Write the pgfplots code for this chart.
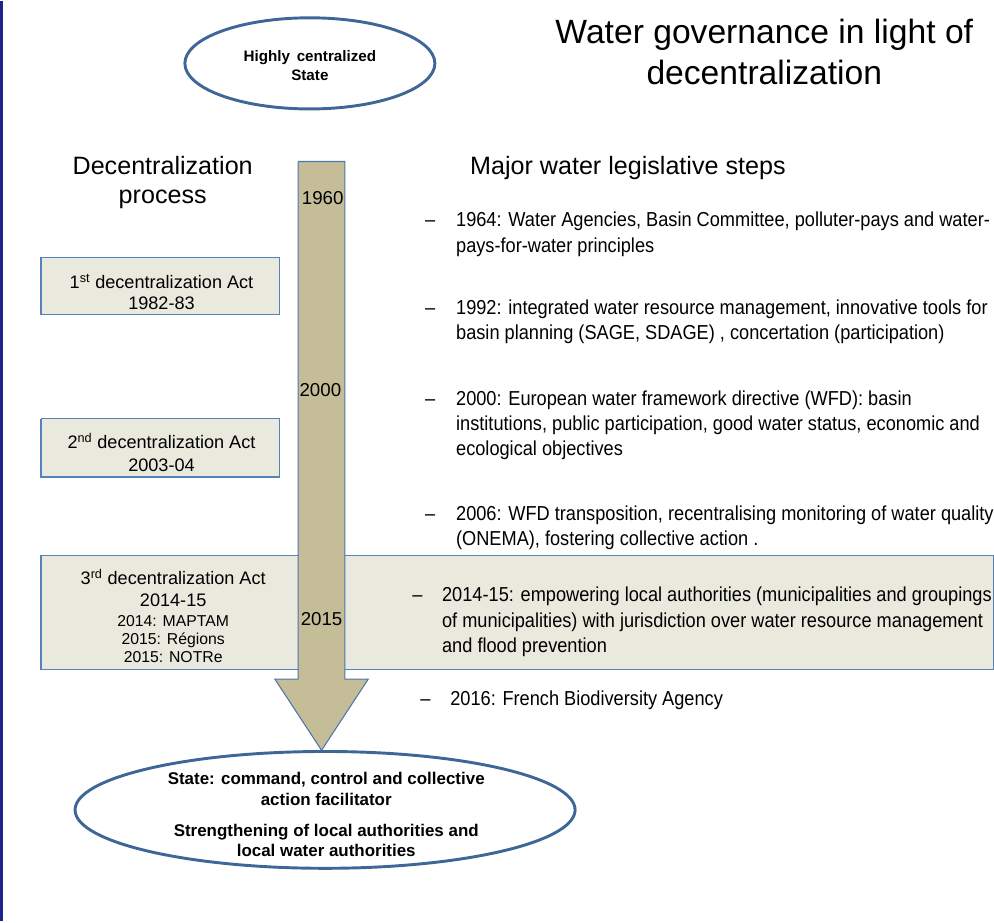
\documentclass[border=0pt]{standalone}
\usepackage{pgfplots}
\pgfplotsset{compat=1.18}
\usepackage{fontspec}
\setmainfont{Liberation Sans}
\newfontfamily\itemfont{Liberation Sans}[FakeStretch=0.9]
\definecolor{navy}{RGB}{32,34,140}
\definecolor{ellblue}{RGB}{62,102,150}
\definecolor{boxfill}{RGB}{234,233,222}
\definecolor{boxline}{RGB}{84,130,185}
\definecolor{arrowfill}{RGB}{196,189,151}
\definecolor{arrowline}{RGB}{76,118,170}
\newcommand{\fs}[2]{\fontsize{#1}{#2}\selectfont}
\begin{document}
\begin{tikzpicture}
\begin{axis}[scale only axis, width=994pt, height=787pt,
  xmin=0, xmax=994, ymin=0, ymax=787, y dir=reverse,
  axis lines=none, clip=false, xtick=\empty, ytick=\empty]
% left rule
\addplot[navy, line width=2.5pt] coordinates {(9,0) (9,787)};
% top ellipse
\draw[ellblue, line width=2.5pt] (axis cs:273,53) ellipse [x radius=107, y radius=39];
% boxes
\addplot[fill=boxfill, draw=boxline, line width=1.2pt] coordinates {(43,219) (247,219) (247,268) (43,268) (43,219)};
\addplot[fill=boxfill, draw=boxline, line width=1.2pt] coordinates {(43,357) (247,357) (247,407) (43,407) (43,357)};
\addplot[fill=boxfill, draw=boxline, line width=1.2pt] coordinates {(43,474) (858,474) (858,572) (43,572) (43,474)};
% arrow
\addplot[fill=arrowfill, draw=arrowline, line width=0.9pt, line join=miter] coordinates {(263,137) (303,137) (303,580) (323,580) (283,641) (243,580) (263,580) (263,137)};
% bottom ellipse
\draw[ellblue, line width=2.5pt] (axis cs:286,692) ellipse [x radius=214, y radius=50];

% title
\node[anchor=base, inner sep=0, font=\fs{28.8}{35}] at (axis cs:662,36) {Water governance in light of};
\node[anchor=base, inner sep=0, font=\fs{28.8}{35}] at (axis cs:662,71) {decentralization};
% top ellipse text
\node[anchor=base, inner sep=0, font=\fs{13}{15}\bfseries] at (axis cs:273,51) {Highly\, centralized};
\node[anchor=base, inner sep=0, font=\fs{13}{15}\bfseries] at (axis cs:273,68) {State};
% headings
\node[anchor=base, inner sep=0, font=\fs{21.5}{25}] at (axis cs:147,148) {Decentralization};
\node[anchor=base, inner sep=0, font=\fs{21.5}{25}] at (axis cs:147,173) {process};
\node[anchor=base west, inner sep=0, font=\fs{21.5}{25}] at (axis cs:410,148) {Major water legislative steps};
% years on arrow
\node[anchor=base, inner sep=0, font=\fs{16}{18}] at (axis cs:284,174) {1960};
\node[anchor=base, inner sep=0, font=\fs{16}{18}] at (axis cs:282,338) {2000};
\node[anchor=base, inner sep=0, font=\fs{16}{18}] at (axis cs:283,534) {2015};
% box texts
\node[anchor=base, inner sep=0, font=\fs{15.5}{18}] at (axis cs:146,246) {1\textsuperscript{st} decentralization Act};
\node[anchor=base, inner sep=0, font=\fs{15.5}{18}] at (axis cs:146,264) {1982-83};
\node[anchor=base, inner sep=0, font=\fs{15.5}{18}] at (axis cs:146,383) {2\textsuperscript{nd} decentralization Act};
\node[anchor=base, inner sep=0, font=\fs{15.5}{18}] at (axis cs:146,402) {2003-04};
\node[anchor=base, inner sep=0, font=\fs{15.5}{18}] at (axis cs:156,499) {3\textsuperscript{rd} decentralization Act};
\node[anchor=base, inner sep=0, font=\fs{15.5}{18}] at (axis cs:156,518) {2014-15};
\node[anchor=base, inner sep=0, font=\fs{13.5}{15}] at (axis cs:156,535) {2014: MAPTAM};
\node[anchor=base, inner sep=0, font=\fs{13.5}{15}] at (axis cs:156,550) {2015: Régions};
\node[anchor=base, inner sep=0, font=\fs{13.5}{15}] at (axis cs:156,566) {2015: NOTRe};
% items
\tikzset{it/.style={anchor=base west, inner sep=0, font=\itemfont\fs{17.3}{21.5}},
         dsh/.style={anchor=base, inner sep=0, font=\itemfont\fs{17.3}{21.5}}}
\node[dsh] at (axis cs:376,193) {–};
\node[it] at (axis cs:398,193) {1964: Water Agencies, Basin Committee, polluter-pays and water-};
\node[it] at (axis cs:398,214.5) {pays-for-water principles};
\node[dsh] at (axis cs:376,268) {–};
\node[it] at (axis cs:398,268) {1992: integrated water resource management, innovative tools for};
\node[it] at (axis cs:398,289.5) {basin planning (SAGE, SDAGE) , concertation (participation)};
\node[dsh] at (axis cs:376,346) {–};
\node[it] at (axis cs:398,346) {2000: European water framework directive (WFD): basin};
\node[it] at (axis cs:398,367.5) {institutions, public participation, good water status, economic and};
\node[it] at (axis cs:398,389) {ecological objectives};
\node[dsh] at (axis cs:376,444) {–};
\node[it] at (axis cs:398,444) {2006: WFD transposition, recentralising monitoring of water quality};
\node[it] at (axis cs:398,465.5) {(ONEMA), fostering collective action .};
\node[dsh] at (axis cs:365,514) {–};
\node[it] at (axis cs:386,514) {2014-15: empowering local authorities (municipalities and groupings};
\node[it] at (axis cs:386,535.5) {of municipalities) with jurisdiction over water resource management};
\node[it] at (axis cs:386,557) {and flood prevention};
\node[dsh] at (axis cs:372,603) {–};
\node[it] at (axis cs:393,603) {2016: French Biodiversity Agency};
% bottom ellipse text
\node[anchor=base, inner sep=0, font=\fs{14.5}{17}\bfseries] at (axis cs:287,670) {State: command, control and collective};
\node[anchor=base, inner sep=0, font=\fs{14.5}{17}\bfseries] at (axis cs:287,688) {action facilitator};
\node[anchor=base, inner sep=0, font=\fs{14.5}{17}\bfseries] at (axis cs:287,715) {Strengthening of local authorities and};
\node[anchor=base, inner sep=0, font=\fs{14.5}{17}\bfseries] at (axis cs:287,732) {local water authorities};
\end{axis}
\end{tikzpicture}
\end{document}
